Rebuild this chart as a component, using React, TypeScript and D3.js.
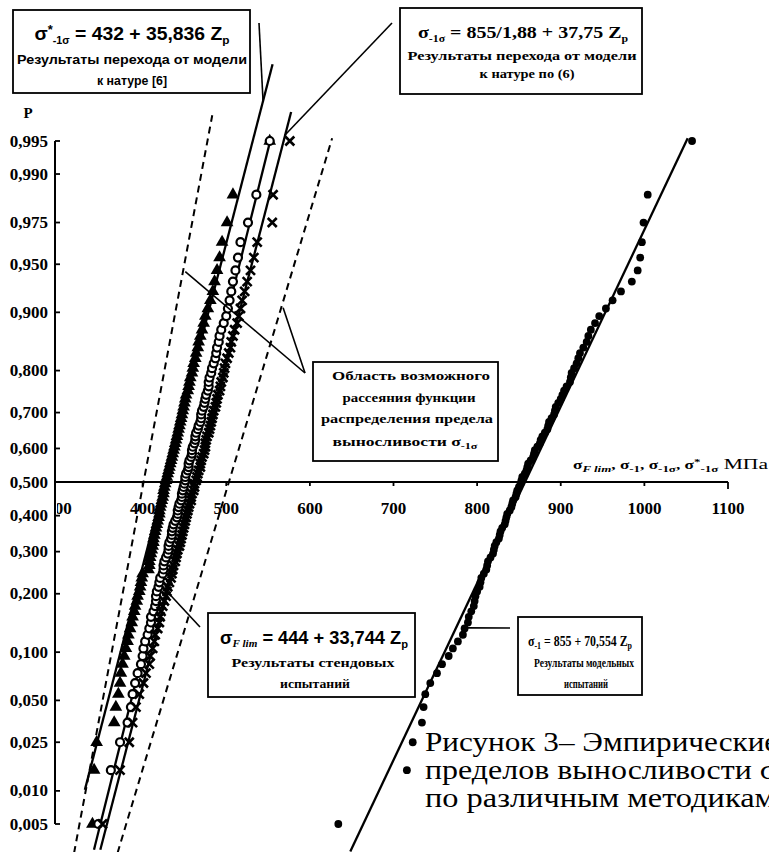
import * as d3 from 'd3';

const W = 769;
const H = 852;

// probability axis
const pTicks = [0.005, 0.01, 0.025, 0.05, 0.1, 0.2, 0.3, 0.4, 0.5, 0.6, 0.7, 0.8, 0.9, 0.95, 0.975, 0.99, 0.995];
const pTickLabels = ['0,005', '0,010', '0,025', '0,050', '0,100', '0,200', '0,300', '0,400', '0,500',
  '0,600', '0,700', '0,800', '0,900', '0,950', '0,975', '0,990', '0,995'];
const xTicks = [300, 400, 500, 600, 700, 800, 900, 1000, 1100];
const xTickLabels = ['300', '400', '500', '600', '700', '800', '900', '1000', '1100'];

// sorted samples, MPa
// σ*-1σ - transfer from model to nature [6]  (filled triangles)
const sigmaStar = [
  340, 342, 345, 366, 368, 371, 373, 374, 376, 378,
  380, 382, 383, 385, 387, 388, 390, 391, 393, 394,
  396, 397, 398, 399, 400, 407, 408, 408, 409, 410,
  411, 412, 413, 413, 414, 415, 416, 417, 418, 419,
  420, 420, 421, 422, 423, 424, 425, 425, 426, 427,
  428, 429, 430, 431, 432, 433, 434, 435, 436, 437,
  438, 439, 440, 441, 442, 443, 444, 445, 446, 447,
  448, 449, 450, 451, 452, 454, 455, 456, 457, 459,
  460, 461, 463, 464, 466, 467, 469, 471, 473, 475,
  478, 481, 484, 486, 489, 492, 495, 501, 508, 552,
];
// σF lim - bench tests (open circles)
const sigmaFlim = [
  347, 362, 373, 382, 386, 388, 391, 394, 398, 400,
  401, 403, 406, 408, 410, 410, 413, 415, 416, 416,
  417, 419, 420, 421, 424, 425, 425, 426, 428, 430,
  431, 431, 432, 434, 435, 435, 436, 437, 439, 441,
  442, 442, 443, 444, 446, 447, 447, 448, 449, 450,
  451, 451, 452, 454, 455, 455, 456, 458, 459, 459,
  460, 462, 463, 463, 464, 466, 467, 469, 470, 470,
  471, 473, 474, 475, 476, 478, 479, 479, 480, 482,
  483, 485, 487, 488, 489, 491, 492, 494, 497, 500,
  502, 504, 506, 508, 511, 514, 517, 526, 536, 552,
];
// σ-1σ - transfer by (6)  (crosses)
const sigmaSig = [
  352, 373, 384, 388, 392, 396, 401, 404, 408, 409,
  412, 414, 415, 418, 420, 421, 422, 424, 426, 428,
  429, 430, 432, 434, 435, 436, 437, 439, 440, 441,
  442, 444, 445, 446, 447, 448, 449, 450, 451, 452,
  453, 454, 455, 456, 458, 458, 459, 461, 462, 462,
  464, 465, 466, 467, 469, 469, 470, 471, 473, 474,
  475, 475, 476, 477, 479, 480, 481, 482, 483, 484,
  485, 487, 488, 489, 490, 492, 493, 494, 496, 497,
  498, 499, 501, 503, 505, 506, 508, 510, 513, 515,
  517, 519, 522, 525, 529, 533, 537, 555, 556, 576,
];
// σ-1 - model tests (filled dots)
const sigma1 = [
  634, 716, 723, 734, 736, 738, 744, 752, 758, 766,
  771, 777, 783, 785, 789, 790, 793, 796, 797, 798,
  800, 803, 804, 805, 808, 811, 812, 813, 816, 819,
  820, 821, 823, 826, 827, 828, 830, 833, 834, 835,
  836, 839, 841, 842, 843, 846, 847, 848, 850, 852,
  853, 854, 857, 859, 860, 861, 864, 867, 868, 869,
  872, 875, 876, 878, 881, 884, 885, 886, 889, 892,
  893, 894, 897, 900, 902, 904, 907, 911, 912, 913,
  916, 919, 921, 923, 927, 931, 933, 936, 941, 946,
  954, 962, 972, 985, 992, 995, 997, 999, 1004, 1057,
];

// straight lines as drawn: mean, sd, P range
const fitMean = [426, 451, 463, 857];
const fitSd = [41, 39.4, 41, 75];
const fitPLow = [0.0102, 0.0028, 0.0028, 0.0027];
const fitPHigh = [0.9992, 0.9949, 0.9974, 0.9953];

// dashed scatter band boundaries
const bandMean = [401, 503];
const bandSd = [29.7, 47.6];
const bandPLow = [0.0026, 0.0026];
const bandPHigh = [0.9972, 0.9953];

// leader targets [MPa, P]
const leaderTargets = [[544, 0.998], [570, 0.9956], [451, 0.944], [568, 0.906], [427, 0.209], [788, 0.136]];
const leaderStarts = [[259, 23], [392, 23], [305, 373], [305, 373], [200, 627], [510, 628]];

// inverse normal cdf (Acklam)
function probit(p: number): number {
  const a = [-39.69683028665376, 220.9460984245205, -275.9285104469687, 138.357751867269, -30.66479806614716, 2.506628277459239];
  const b = [-54.47609879822406, 161.5858368580409, -155.6989798598866, 66.80131188771972, -13.28068155288572];
  const c = [-0.007784894002430293, -0.3223964580411365, -2.400758277161838, -2.549732539343734, 4.374664141464968, 2.938163982698783];
  const d = [0.007784695709041462, 0.3224671290700398, 2.445134137142996, 3.754408661907416];
  const pl = 0.02425;
  if (p < pl) {
    const q = Math.sqrt(-2 * Math.log(p));
    return (((((c[0] * q + c[1]) * q + c[2]) * q + c[3]) * q + c[4]) * q + c[5]) / ((((d[0] * q + d[1]) * q + d[2]) * q + d[3]) * q + 1);
  }
  if (p > 1 - pl) {
    const q = Math.sqrt(-2 * Math.log(1 - p));
    return -(((((c[0] * q + c[1]) * q + c[2]) * q + c[3]) * q + c[4]) * q + c[5]) / ((((d[0] * q + d[1]) * q + d[2]) * q + d[3]) * q + 1);
  }
  const q = p - 0.5;
  const r = q * q;
  return (((((a[0] * r + a[1]) * r + a[2]) * r + a[3]) * r + a[4]) * r + a[5]) * q / (((((b[0] * r + b[1]) * r + b[2]) * r + b[3]) * r + b[4]) * r + 1);
}

const x = d3.scaleLinear().domain([300, 1100]).range([59, 728]);
const zScale = d3.scaleLinear().domain([probit(0.005), 0, probit(0.995)]).range([824, 482, 141]);
const y = (p: number) => zScale(probit(p));
const axisX = 55;

const triPath = d3.symbol(d3.symbolTriangle, 70)() as string;
const crossPath = 'M-4.5,-4.5L4.5,4.5M-4.5,4.5L4.5,-4.5';

function lineSeg(mean: number, sd: number, pLo: number, pHi: number) {
  const zs = [probit(pLo), probit(pHi)];
  return d3.line()(zs.map(z => [x(mean + sd * z), zScale(z)] as [number, number])) as string;
}

const serif = '"Liberation Serif", "DejaVu Serif", "Noto Serif", "Times New Roman", serif';
const sans = '"Liberation Sans", Arial, sans-serif';

function Box({ x0, y0, w, h }: { x0: number; y0: number; w: number; h: number }) {
  return <rect x={x0} y={y0} width={w} height={h} fill="white" stroke="black" strokeWidth={1.8} />;
}

export default function App() {
  const pos = (i: number, n: number) => (i + 0.5) / n;
  return (
    <svg width={W} height={H} style={{ position: 'absolute', left: 0, top: 0, background: 'white' }}>
      <defs>
        <clipPath id="clip300"><rect x={57} y={490} width={40} height={40} /></clipPath>
      </defs>
      <rect width={W} height={H} fill="white" />

      {/* scatter band */}
      {bandMean.map((m, i) => (
        <path key={'b' + i} d={lineSeg(m, bandSd[i], bandPLow[i], bandPHigh[i])} stroke="black" strokeWidth={2} strokeDasharray="7 5" fill="none" />
      ))}

      {/* axes */}
      <line x1={axisX} x2={axisX} y1={y(0.995)} y2={y(0.005)} stroke="black" strokeWidth={2} />
      {pTicks.map((p, i) => (
        <g key={'pt' + i}>
          <line x1={axisX} x2={axisX + 5} y1={y(p)} y2={y(p)} stroke="black" strokeWidth={1.8} />
          <text x={48} y={y(p)} dominantBaseline="central" textAnchor="end" fontFamily={serif} fontWeight="bold" fontSize={17}>{pTickLabels[i]}</text>
        </g>
      ))}
      <text x={28} y={113} textAnchor="middle" dominantBaseline="central" fontFamily={serif} fontWeight="bold" fontSize={15}>P</text>

      <line x1={axisX} x2={x(1100)} y1={zScale(0)} y2={zScale(0)} stroke="black" strokeWidth={2} />
      {xTicks.map((v, i) => (
        <g key={'xt' + i}>
          {i > 0 && <line x1={x(v)} x2={x(v)} y1={zScale(0)} y2={zScale(0) + (v === 1100 ? 7 : 4)} stroke="black" strokeWidth={1.8} />}
          <text x={x(v)} y={508} textAnchor="middle" dominantBaseline="central" fontFamily={serif} fontWeight="bold" fontSize={17}
            clipPath={i === 0 ? 'url(#clip300)' : undefined}>{xTickLabels[i]}</text>
        </g>
      ))}
      <text x={573} y={469} fontFamily={serif} fontWeight="bold" fontSize={12} textLength={195} lengthAdjust="spacingAndGlyphs">
        σ<tspan dy={3} fontSize={9} fontStyle="italic">F lim</tspan><tspan dy={-3}>,  σ</tspan><tspan dy={3} fontSize={9}>-1</tspan><tspan dy={-3}>, σ</tspan><tspan dy={3} fontSize={9}>-1σ</tspan><tspan dy={-3}>, σ</tspan><tspan dy={-4} fontSize={9}>*</tspan><tspan dy={7} fontSize={9}>-1σ</tspan><tspan dy={-3} fontSize={15} fontWeight="normal">  МПа</tspan>
      </text>

      {/* fitted lines */}
      {fitMean.map((m, i) => (
        <path key={'f' + i} d={lineSeg(m, fitSd[i], fitPLow[i], fitPHigh[i])} stroke="black" strokeWidth={2.3} fill="none" />
      ))}

      {/* samples */}
      {sigmaStar.map((v, i) => (
        <path key={'a' + i} d={triPath} transform={`translate(${x(v)},${y(pos(i, sigmaStar.length))})`} fill="black" />
      ))}
      {sigmaFlim.map((v, i) => (
        <circle key={'c' + i} cx={x(v)} cy={y(pos(i, sigmaFlim.length))} r={4} fill="white" stroke="black" strokeWidth={2.2} />
      ))}
      {sigmaSig.map((v, i) => (
        <path key={'x' + i} d={crossPath} transform={`translate(${x(v)},${y(pos(i, sigmaSig.length))})`} stroke="black" strokeWidth={2.6} fill="none" />
      ))}
      {sigma1.map((v, i) => (
        <circle key={'d' + i} cx={x(v)} cy={y(pos(i, sigma1.length))} r={3.9} fill="black" />
      ))}

      {/* leaders */}
      {leaderTargets.map((t, i) => (
        <line key={'l' + i} x1={leaderStarts[i][0]} y1={leaderStarts[i][1]} x2={x(t[0])} y2={y(t[1])} stroke="black" strokeWidth={1.6} />
      ))}

      {/* box 1 */}
      <Box x0={13} y0={10} w={237} h={83} />
      <text x={132} y={40} textAnchor="middle" fontFamily={sans} fontWeight="bold" fontSize={18} textLength={195} lengthAdjust="spacingAndGlyphs">
        σ<tspan dy={-6} fontSize={12}>*</tspan><tspan dy={10} fontSize={10}>-1σ</tspan><tspan dy={-4}> = 432 + 35,836 Z</tspan><tspan dy={4} fontSize={11}>p</tspan>
      </text>
      <text x={132} y={64} textAnchor="middle" fontFamily={sans} fontWeight="bold" fontSize={13} textLength={230} lengthAdjust="spacingAndGlyphs">Результаты перехода от модели</text>
      <text x={132} y={85} textAnchor="middle" fontFamily={sans} fontWeight="bold" fontSize={13} textLength={70} lengthAdjust="spacingAndGlyphs">к натуре [6]</text>

      {/* box 2 */}
      <Box x0={400} y0={8} w={242} h={86} />
      <text x={523} y={38} textAnchor="middle" fontFamily={serif} fontWeight="bold" fontSize={17} textLength={210} lengthAdjust="spacingAndGlyphs">
        σ<tspan dy={4} fontSize={10}>-1σ</tspan><tspan dy={-4}> = 855/1,88 + 37,75 Z</tspan><tspan dy={4} fontSize={10}>p</tspan>
      </text>
      <text x={522} y={60} textAnchor="middle" fontFamily={serif} fontWeight="bold" fontSize={13} textLength={229} lengthAdjust="spacingAndGlyphs">Результаты перехода от модели</text>
      <text x={527} y={78} textAnchor="middle" fontFamily={serif} fontWeight="bold" fontSize={13} textLength={95} lengthAdjust="spacingAndGlyphs">к натуре по (6)</text>

      {/* box 3 */}
      <Box x0={313} y0={362} w={185} h={99} />
      <text x={411} y={380} textAnchor="middle" fontFamily={serif} fontWeight="bold" fontSize={13} textLength={158} lengthAdjust="spacingAndGlyphs">Область возможного</text>
      <text x={409} y={402} textAnchor="middle" fontFamily={serif} fontWeight="bold" fontSize={13} textLength={133} lengthAdjust="spacingAndGlyphs">рассеяния функции</text>
      <text x={407} y={423} textAnchor="middle" fontFamily={serif} fontWeight="bold" fontSize={13} textLength={172} lengthAdjust="spacingAndGlyphs">распределения предела</text>
      <text x={405} y={446} textAnchor="middle" fontFamily={serif} fontWeight="bold" fontSize={13} textLength={145} lengthAdjust="spacingAndGlyphs">
        выносливости  σ<tspan dy={3} fontSize={9}>-1σ</tspan>
      </text>

      {/* box 4 */}
      <Box x0={208} y0={613} w={207} h={84} />
      <text x={314} y={644} textAnchor="middle" fontFamily={sans} fontWeight="bold" fontSize={18} textLength={188} lengthAdjust="spacingAndGlyphs">
        σ<tspan dy={3} fontSize={11} fontStyle="italic" fontFamily={serif}>F lim</tspan><tspan dy={-3}> = 444 + 33,744 Z</tspan><tspan dy={4} fontSize={11}>p</tspan>
      </text>
      <text x={313} y={667} textAnchor="middle" fontFamily={serif} fontWeight="bold" fontSize={13} textLength={163} lengthAdjust="spacingAndGlyphs">Результаты стендовых</text>
      <text x={315} y={688} textAnchor="middle" fontFamily={serif} fontWeight="bold" fontSize={13} textLength={70} lengthAdjust="spacingAndGlyphs">испытаний</text>

      {/* box 5 */}
      <Box x0={518} y0={617} w={124} h={78} />
      <text x={580} y={646} textAnchor="middle" fontFamily={serif} fontWeight="bold" fontSize={15} textLength={104} lengthAdjust="spacingAndGlyphs">
        σ<tspan dy={3} fontSize={10}>-1</tspan><tspan dy={-3}> = 855 + 70,554 Z</tspan><tspan dy={3} fontSize={10}>p</tspan>
      </text>
      <text x={584} y={667} textAnchor="middle" fontFamily={serif} fontWeight="bold" fontSize={12} textLength={100} lengthAdjust="spacingAndGlyphs">Результаты модельных</text>
      <text x={586} y={688} textAnchor="middle" fontFamily={serif} fontWeight="bold" fontSize={12} textLength={44} lengthAdjust="spacingAndGlyphs">испытаний</text>

      {/* caption, runs past the right edge as in the source */}
      <g fontFamily={serif} fontSize={27}>
        <text x={425} y={751} textLength={478} lengthAdjust="spacingAndGlyphs">Рисунок 3– Эмпирические функции</text>
        <text x={425} y={779} textLength={352} lengthAdjust="spacingAndGlyphs">пределов выносливости σ</text>
        <text x={425} y={807} textLength={350} lengthAdjust="spacingAndGlyphs">по различным методикам</text>
      </g>
    </svg>
  );
}
